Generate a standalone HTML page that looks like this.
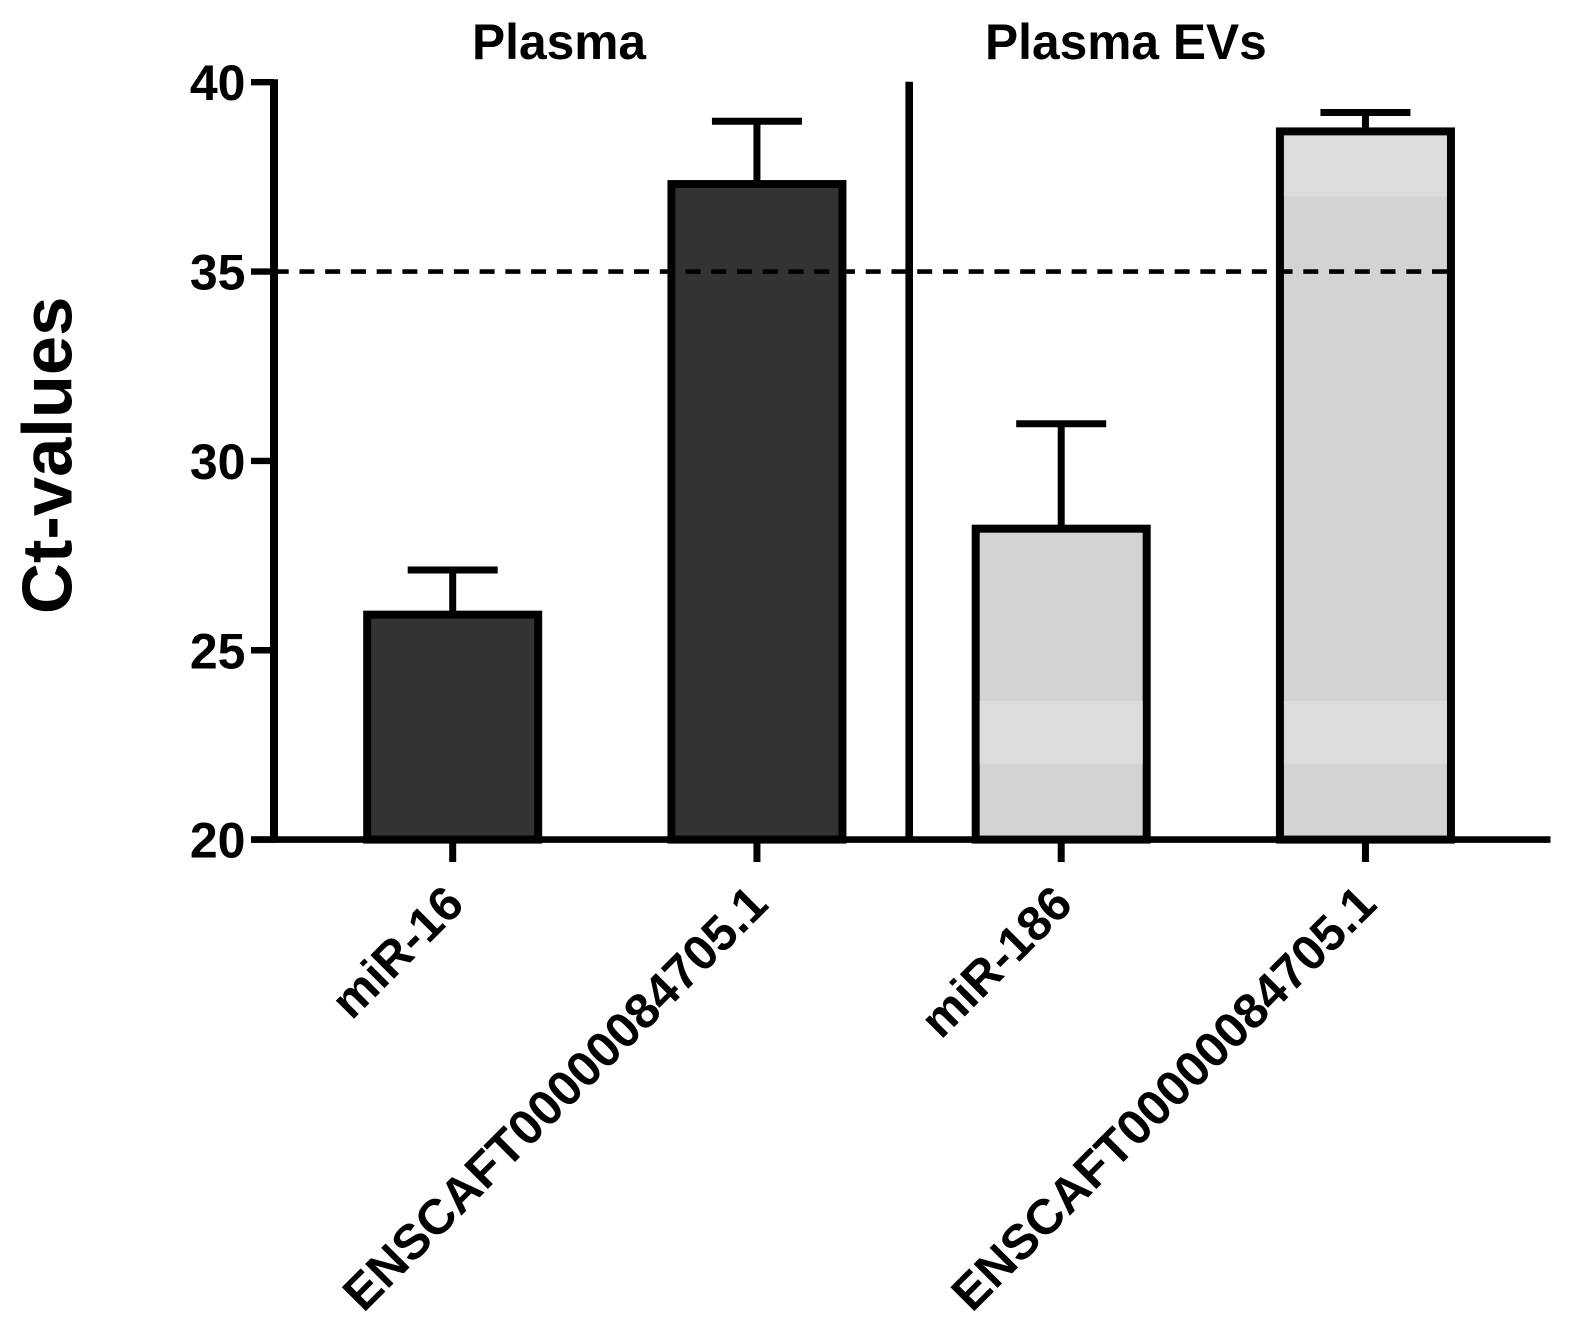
<!DOCTYPE html>
<html>
<head>
<meta charset="utf-8">
<style>
html,body{margin:0;padding:0;background:#fff;}
svg{display:block;}
text{font-family:"Liberation Sans",sans-serif;font-weight:bold;fill:#000;}
</style>
</head>
<body>
<svg id="chart" width="1571" height="1337" viewBox="0 0 1571 1337" xmlns="http://www.w3.org/2000/svg"></svg>
<script>
const categories = ["miR-16", "ENSCAFT00000084705.1", "miR-186", "ENSCAFT00000084705.1"];
const groupOf = ["plasma", "plasma", "ev", "ev"];
const values = [25.94, 37.31, 28.21, 38.7];
const errors = [1.18, 1.66, 2.77, 0.5];
const yTicks = [20, 25, 30, 35, 40];
const thresholdValue = 35;
const groupTitles = ["Plasma", "Plasma EVs"];
const lightBandRanges = [[22.0, 23.66], [36.98, 40]];

const svg = document.getElementById('chart');
const NS = 'http://www.w3.org/2000/svg';
function y(v){ return 839.6 - (v - 20) * 37.87; }
function x(i){ return 452.7 + i * 304.25; }
function mk(tag, attrs, text){
  const e = document.createElementNS(NS, tag);
  for (const k in attrs) e.setAttribute(k, attrs[k]);
  if (text !== undefined) e.textContent = text;
  svg.appendChild(e);
  return e;
}
const barW = 171;
const ink = '#000';

values.forEach((v, i) => {
  const top = y(v), cx = x(i), capY = y(v + errors[i]);
  const errLine = mk('line', {x1:cx, x2:cx, y1:top, y2:capY, stroke:ink, 'stroke-width':7});
  
  
  const cap = mk('line', {x1:cx-45, x2:cx+45, y1:capY, y2:capY, stroke:ink, 'stroke-width':7});
  
  
  const bar = mk('rect', {x:cx-barW/2, y:top, width:barW, height:y(20)-top,
    fill: groupOf[i] === 'plasma' ? '#333333' : '#d3d3d3', stroke:ink, 'stroke-width':8});
  
  
  if (groupOf[i] === 'ev') {
    lightBandRanges.forEach((r, j) => {
      const hi = Math.min(r[1], v);
      if (hi <= r[0]) return;
      const band = mk('rect', {x:cx-barW/2+4, y:y(hi)+4*(hi===v?1:0), width:barW-8,
        height:y(r[0])-y(hi)-4*(hi===v?1:0), fill:'#dcdcdc'});
      
      
    });
  }
  const tick = mk('line', {x1:cx, x2:cx, y1:y(20), y2:862, stroke:ink, 'stroke-width':7});
  
  
});

const thr = mk('line', {x1:273.7, x2:1447, y1:y(thresholdValue), y2:y(thresholdValue), stroke:ink, 'stroke-width':4.6, 'stroke-dasharray':'15 10.74'});



const yAxis = mk('line', {x1:274, x2:274, y1:79.3, y2:842.8, stroke:ink, 'stroke-width':8});


const xAxis = mk('line', {x1:251, x2:1550.5, y1:y(20), y2:y(20), stroke:ink, 'stroke-width':6.6});


const divider = mk('line', {x1:909.2, x2:909.2, y1:81.7, y2:y(20), stroke:ink, 'stroke-width':7.6});



yTicks.forEach(t => {
  const tk = mk('line', {x1:251, x2:274, y1:y(t), y2:y(t), stroke:ink, 'stroke-width':6.4});
  
  
  const lb = mk('text', {x:245.5, y:y(t)+18, 'text-anchor':'end', 'font-size':50}, String(t));
  
  
});

categories.forEach((c, i) => {
  const ax = x(i) + 13.5, ay = 906.5, long = c.length > 10;
  const lb = mk('text', {x:ax, y:ay, 'text-anchor':'end', 'font-size': long ? 49.3 : 48.6,
    transform:'rotate(-45 ' + ax + ' ' + ay + ')'}, c);
  
  
});

const t1 = mk('text', {x:472, y:59, 'font-size':49.7}, groupTitles[0]);


const t2 = mk('text', {x:985, y:59, 'font-size':49.7}, groupTitles[1]);



const yt = mk('text', {x:0, y:0, 'font-size':70.5, transform:'translate(71.5 614) rotate(-90)'}, 'Ct-values');


</script>
</body>
</html>
